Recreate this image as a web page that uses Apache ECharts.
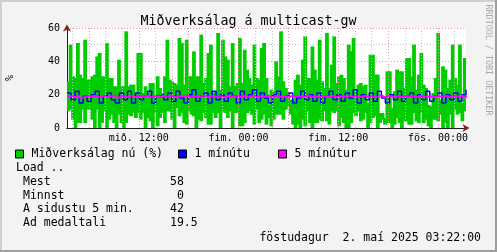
<!DOCTYPE html>
<html>
<head>
<meta charset="utf-8">
<script src="https://cdn.jsdelivr.net/npm/echarts@6/dist/echarts.min.js"></script>
<style>
html, body { margin: 0; padding: 0; background: #f3f3f3; }
#mychart { width: 497px; height: 252px; }
</style>
</head>
<body>
<div id="mychart"></div>
<script>
// Miðverksálag (CPU load) - green columns go from gLow to gHigh
var gHigh = [
	28, 50, 31, 30, 51, 32, 30, 53, 29, 29, 31, 32, 43, 45, 31, 31, 51, 30, 30, 25, 25, 41, 25, 25, 58, 25, 26, 26, 21, 45, 45, 21, 25, 21, 27, 27, 18, 31, 24, 21, 31, 53,
	29, 28, 27, 26, 54, 51, 26, 53, 31, 31, 46, 31, 31, 56, 27, 30, 45, 50, 21, 22, 57, 23, 53, 43, 41, 25, 51, 25, 27, 54, 27, 47, 35, 30, 26, 50, 30, 29, 48, 51, 30,
	14, 23, 22, 40, 31, 58, 28, 24, 21, 17, 17, 29, 32, 26, 41, 55, 30, 30, 49, 35, 29, 53, 28, 24, 57, 24, 38, 55, 27, 31, 32, 30, 23, 50, 46, 54, 23, 26, 27, 25, 26,
	15, 44, 44, 32, 32, 9, 9, 6, 34, 34, 12, 22, 35, 34, 34, 24, 42, 42, 31, 50, 23, 32, 45, 26, 24, 14, 13, 21, 30, 57, 17, 37, 35, 24, 29, 50, 30, 26, 50, 15, 42
];
var gLow = [
	10, 11, 5, 0, 3, 3, 11, 3, 11, 11, 5, 0, 11, 0, 3, 10, 0, 5, 8, 3, 0, 8, 3, 0, 3, 8, 7, 9, 6, 9, 5, 9, 0, 6, 4, 0, 9, 1, 6, 9, 3, 10,
	10, 5, 0, 12, 7, 9, 3, 2, 10, 8, 7, 0, 5, 4, 9, 6, 2, 2, 9, 6, 9, 0, 10, 9, 6, 10, 0, 9, 9, 1, 1, 3, 9, 10, 8, 2, 11, 3, 5, 8, 2,
	6, 1, 5, 8, 8, 8, 5, 11, 13, 8, 2, 0, 2, 0, 5, 1, 10, 3, 0, 3, 3, 5, 4, 10, 4, 2, 10, 9, 10, 1, 6, 3, 0, 0, 3, 9, 7, 10, 4, 5, 9,
	0, 3, 6, 7, 0, 3, 5, 2, 3, 3, 0, 2, 6, 3, 0, 4, 4, 2, 2, 9, 4, 3, 9, 3, 5, 1, 0, 5, 5, 4, 8, 0, 3, 0, 8, 0, 11, 8, 9, 4, 10
];
// 1 mínútu
var blue = [
	21, 17, 22, 15, 19, 16, 20, 22, 15, 19, 21, 17, 15, 21, 17, 22, 15, 21, 17, 19, 22, 15, 19, 20, 17,
	21, 16, 22, 18, 15, 20, 23, 16, 19, 21, 15, 22, 17, 20, 16, 21, 19, 15, 22, 17, 20, 23, 16, 21, 18,
	15, 20, 22, 16, 19, 21, 15, 18, 22, 17, 20, 16, 21, 15, 19, 22, 17, 20, 16, 21, 18, 23, 15, 20, 17,
	21, 16, 22, 18, 15, 20, 17, 22, 16, 19, 21, 15, 20, 17, 22, 16, 19, 21, 15, 20, 17, 21, 16, 20, 23
];
// 5 mínútur
var magenta = [
	19, 18.5, 19.5, 18.2, 19, 18.8, 19.4, 18.4, 19.2, 18.6, 19, 19.6, 18.3, 19, 18.7, 19.3, 18.5, 19.1, 18.8, 19.4, 18.4, 19, 18.6, 19.2, 18.9,
	19.5, 18.5, 19.1, 18.7, 19.3, 18.4, 19, 18.8, 19.6, 18.5, 19.2, 18.7, 19, 18.3, 19.4, 18.9, 19.1, 18.6, 19.3, 18.8, 19.5, 18.4, 19, 18.7, 19.2,
	18.5, 19.3, 18.8, 19, 18.4, 19.4, 18.9, 19.1, 18.6, 19.5, 18.7, 19, 18.5, 19.3, 18.8, 19.2, 18.4, 19, 18.9, 19.4, 18.6, 19.1, 18.7, 19.3, 18.5,
	19, 18.8, 19.6, 18.4, 19.2, 18.7, 19, 18.5, 19.3, 18.9, 19.1, 18.6, 19.4, 18.8, 19, 18.5, 19.2, 18.7, 19.4, 18.6, 19, 18.9, 19.3, 18.8, 19.5
];
// time axis in hours counted from wednesday 00:00
var tStart = 3 + 22 / 60;
var tEnd = tStart + 48;
var xTickHours = [12, 24, 36, 48];
var xTickLabels = ['mið. 12:00', 'fim. 00:00', 'fim. 12:00', 'fös. 00:00'];
var yTickLabels = [0, 20, 40, 60];
var statNames = ['Mest', 'Minnst', 'A sidustu 5 min.', 'Ad medaltali'];
var statValues = ['58', ' 0', '42', '19.5'];

var MONO = '"DejaVu Sans Mono", monospace';
var gridMinor = '#c4c4c4';
var gridMajor = '#e59a9a';

var myChart = echarts.init(document.getElementById('mychart'));

// vertical grid lines: gray every 2h, red every 6h
var vLines = [];
for (var h = Math.ceil(tStart / 2) * 2; h < tEnd; h += 2) {
	vLines.push({
		xAxis: h,
		lineStyle: { color: h % 6 == 0 ? gridMajor : gridMinor, type: [1, 2], width: 1 }
	});
}

var span = [];
for (var i = 0; i < gHigh.length; i++) {
	span.push(gHigh[i] - gLow[i]);
}

var legendBase = {
	orient: 'horizontal',
	top: 148,
	padding: 0,
	itemWidth: 8,
	itemHeight: 8,
	icon: 'rect',
	selectedMode: false,
	itemStyle: { borderColor: '#000', borderWidth: 1 },
	textStyle: { fontFamily: MONO, fontSize: 11.5, color: '#000', padding: [0, 0, 0, 3] }
};

var statTexts = [{
	type: 'text', x: 16, y: 168,
	style: { text: 'Load ..', font: '11.5px ' + MONO, fill: '#000', textVerticalAlign: 'middle' }
}];
for (var s = 0; s < statNames.length; s++) {
	statTexts.push({
		type: 'text', x: 23, y: 182 + s * 13.6,
		style: { text: statNames[s], font: '11.5px ' + MONO, fill: '#000', textVerticalAlign: 'middle' }
	});
	statTexts.push({
		type: 'text', x: 170, y: 182 + s * 13.6,
		style: { text: statValues[s], font: '11.5px ' + MONO, fill: '#000', textVerticalAlign: 'middle' }
	});
}

var option = {
	backgroundColor: '#f3f3f3',
	animation: false,
	title: {
		text: 'Miðverksálag á multicast-gw',
		left: 'center',
		top: 10,
		textStyle: { fontFamily: MONO, fontSize: 13.3, fontWeight: 'normal', color: '#000' }
	},
	legend: [
		Object.assign({}, legendBase, { left: 15, data: ['Miðverksálag nú (%)'] }),
		Object.assign({}, legendBase, { left: 178, data: ['1 mínútu'] }),
		Object.assign({}, legendBase, { left: 278, data: ['5 mínútur'] })
	],
	grid: {
		left: 67, right: 31, top: 28, bottom: 124,
		show: true, backgroundColor: '#ffffff', borderWidth: 0
	},
	xAxis: [{
		// green columns + red arrow
		type: 'category',
		position: 'bottom',
		data: gHigh.map(function(v, k) { return k; }),
		boundaryGap: true,
		axisLine: {
			show: true, symbol: ['none', 'arrow'], symbolSize: [6, 7], symbolOffset: [0, 3.5],
			lineStyle: { color: '#7f1f1f', width: 1 }
		},
		axisTick: { show: false },
		axisLabel: { show: false },
		splitLine: { show: false }
	}, {
		// 1 and 5 minute lines
		type: 'category',
		position: 'bottom',
		data: blue.map(function(v, k) { return k; }),
		boundaryGap: false,
		axisLine: { show: false },
		axisTick: { show: false },
		axisLabel: { show: false },
		splitLine: { show: false }
	}, {
		// time scale for labels and grid
		type: 'value',
		position: 'bottom',
		min: tStart,
		max: tEnd,
		axisLine: { show: true, lineStyle: { color: '#1f1f1f', width: 1 } },
		axisTick: { show: false },
		splitLine: { show: false },
		axisLabel: {
			customValues: xTickHours,
			margin: 5,
			fontFamily: MONO,
			fontSize: 10,
			color: '#000',
			formatter: function(v) {
				var k = xTickHours.indexOf(Math.round(v));
				return k >= 0 ? xTickLabels[k] : '';
			}
		}
	}],
	yAxis: [{
		type: 'value',
		position: 'left',
		min: 0,
		max: 60,
		interval: 10,
		axisLine: {
			show: true, symbol: ['none', 'arrow'], symbolSize: [6, 7], symbolOffset: [0, 3.5],
			lineStyle: { color: '#7f1f1f', width: 1 }
		},
		axisTick: { show: false },
		axisLabel: { show: false },
		splitLine: {
			show: true,
			lineStyle: { color: [gridMajor, gridMinor], type: [1, 2], width: 1 }
		}
	}, {
		type: 'value',
		position: 'left',
		min: 0,
		max: 60,
		interval: 10,
		axisLine: { show: true, lineStyle: { color: '#1f1f1f', width: 1 } },
		axisTick: { show: false },
		splitLine: { show: false },
		axisLabel: {
			margin: 7,
			fontFamily: MONO,
			fontSize: 10,
			color: '#000',
			formatter: function(v) {
				return yTickLabels.indexOf(v) >= 0 ? String(v) : '';
			}
		}
	}],
	series: [{
		name: 'grid',
		type: 'line',
		xAxisIndex: 2,
		yAxisIndex: 0,
		data: [],
		silent: true,
		z: 1,
		markLine: { symbol: 'none', silent: true, label: { show: false }, data: vLines }
	}, {
		name: 'base',
		type: 'bar',
		stack: 'g',
		xAxisIndex: 0,
		yAxisIndex: 0,
		barWidth: 3.8,
		itemStyle: { color: 'rgba(0,0,0,0)' },
		data: gLow,
		z: 2
	}, {
		name: 'Miðverksálag nú (%)',
		type: 'bar',
		stack: 'g',
		xAxisIndex: 0,
		yAxisIndex: 0,
		barWidth: 3.8,
		itemStyle: { color: '#00cc00' },
		data: span,
		z: 2
	}, {
		name: '1 mínútu',
		type: 'line',
		xAxisIndex: 1,
		yAxisIndex: 0,
		step: 'end',
		symbol: 'none',
		lineStyle: { color: '#0000ff', width: 1.5 },
		itemStyle: { color: '#0000ff' },
		data: blue,
		z: 3
	}, {
		name: '5 mínútur',
		type: 'line',
		xAxisIndex: 1,
		yAxisIndex: 0,
		step: 'end',
		symbol: 'none',
		lineStyle: { color: '#ff00ff', width: 2 },
		itemStyle: { color: '#ff00ff' },
		data: magenta,
		z: 4
	}],
	graphic: [
		// frame shading
		{ type: 'rect', shape: { x: 0, y: 0, width: 497, height: 2 }, style: { fill: '#cfcfcf' } },
		{ type: 'rect', shape: { x: 0, y: 0, width: 2, height: 252 }, style: { fill: '#cfcfcf' } },
		{ type: 'rect', shape: { x: 0, y: 250, width: 497, height: 2 }, style: { fill: '#9e9e9e' } },
		{ type: 'rect', shape: { x: 495, y: 0, width: 2, height: 252 }, style: { fill: '#9e9e9e' } },
		{
			type: 'text', x: 10, y: 78, rotation: Math.PI / 2,
			style: { text: '%', font: '10px ' + MONO, fill: '#000', textAlign: 'center', textVerticalAlign: 'middle' }
		},
		{
			type: 'text', x: 488, y: 60, rotation: -Math.PI / 2,
			style: { text: 'RRDTOOL / TOBI OETIKER', font: '8.4px ' + MONO, fill: '#a8a8a8', textAlign: 'center', textVerticalAlign: 'middle' }
		},
		{
			type: 'text', x: 481, y: 238,
			style: { text: 'föstudagur  2. maí 2025 03:22:00', font: '11.5px ' + MONO, fill: '#000', textAlign: 'right', textVerticalAlign: 'middle' }
		}
	].concat(statTexts)
};
myChart.setOption(option);
window.onresize = myChart.resize;
</script>
</body>
</html>
